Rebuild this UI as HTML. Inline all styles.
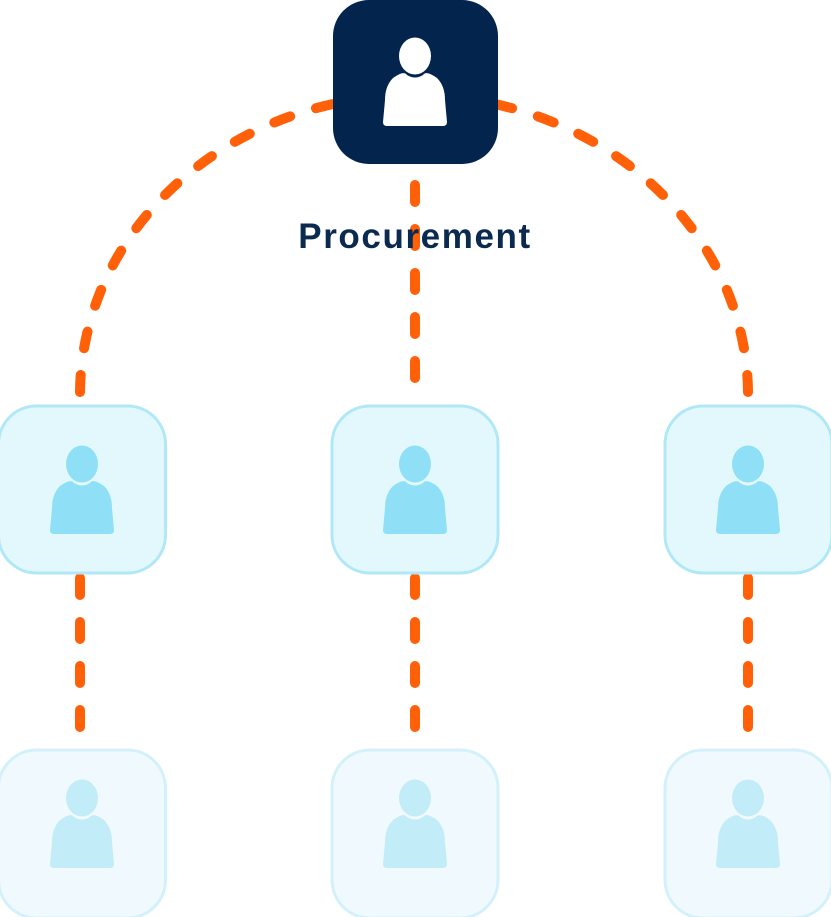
<!DOCTYPE html>
<html><head><meta charset="utf-8"><style>
html,body{margin:0;padding:0;background:#fff;width:831px;height:917px;overflow:hidden}
svg{display:block}
</style></head><body>
<svg width="831" height="917" viewBox="0 0 831 917" xmlns="http://www.w3.org/2000/svg">
<defs>
<g id="person">
<ellipse cx="0" cy="0" rx="16" ry="18.5"/>
<path d="M-22,22 Q-11,14 -8,19 Q0,24 8,19 Q11,14 22,22 Q30,30 30,44 L32,66 Q32,70 28,70 L-28,70 Q-32,70 -32,66 L-30,44 Q-30,30 -22,22 Z"/>
</g>
</defs>
<g fill="none" stroke="#ff6008" stroke-width="10" stroke-linecap="round" stroke-dasharray="17 27">
<path d="M80,392 A334,300 0 0 1 414,95"/>
<path d="M748,392 A334,300 0 0 0 414,95"/>
<line x1="415" y1="185" x2="415" y2="405"/>
<line x1="80" y1="578" x2="80" y2="752"/>
<line x1="415" y1="578" x2="415" y2="752"/>
<line x1="748" y1="578" x2="748" y2="752"/>
</g>
<rect x="333" y="0" width="165" height="164" rx="36" fill="#02244d"/>
<g fill="#fff" transform="translate(415,56)"><use href="#person"/></g>
<text x="415" y="248" text-anchor="middle" font-family="Liberation Sans, sans-serif" font-weight="bold" font-size="35" letter-spacing="1.6" fill="#0b2a50">Procurement</text>
<g fill="#e3f8fd" stroke="#b0e8f7" stroke-width="3">
<rect x="-1.5" y="406" width="167" height="167" rx="38"/>
<rect x="332" y="406" width="166" height="167" rx="38"/>
<rect x="665" y="406" width="167" height="167" rx="38"/>
</g>
<g fill="#8fe0f6">
<use href="#person" transform="translate(82,464)"/>
<use href="#person" transform="translate(415,464)"/>
<use href="#person" transform="translate(748,464)"/>
</g>
<g fill="#eff9fd" stroke="#d3f1fa" stroke-width="3" fill-opacity="0.92">
<rect x="-1.5" y="750" width="167" height="168" rx="38"/>
<rect x="332" y="750" width="166" height="168" rx="38"/>
<rect x="665" y="750" width="167" height="168" rx="38"/>
</g>
<g fill="#c3ecf9">
<use href="#person" transform="translate(82,798)"/>
<use href="#person" transform="translate(415,798)"/>
<use href="#person" transform="translate(748,798)"/>
</g>
</svg>
</body></html>
